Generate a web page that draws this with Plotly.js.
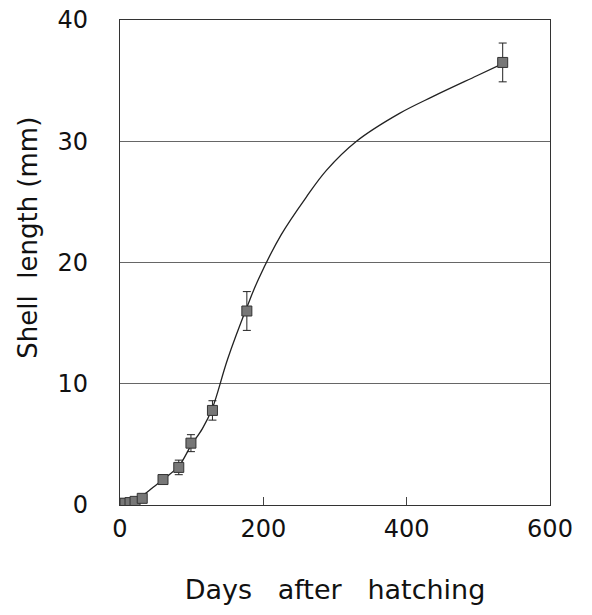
<!DOCTYPE html>
<html><head><meta charset="utf-8">
<script src="https://cdn.plot.ly/plotly-3.0.1.min.js"></script>
<style>html,body{margin:0;padding:0;background:#fff}</style>
</head><body>
<div id="chart" style="width:592px;height:615px"></div>
<script>
// Observed data (mean ± error)
var days = [0, 7, 14, 21, 31, 60, 82, 99, 129, 177, 534];
var shellLength = [0.1, 0.15, 0.2, 0.3, 0.55, 2.1, 3.1, 5.1, 7.8, 16.0, 36.5];
var shellErr = [0.05, 0.05, 0.05, 0.1, 0.2, 0.3, 0.6, 0.7, 0.8, 1.6, 1.6];
// Fitted growth curve
var fitDays = [0, 10, 20, 32, 45, 60, 82, 99, 115, 129, 150, 177, 193, 225, 260, 288, 330, 390, 437, 498, 534];
var fitLen = [0.1, 0.2, 0.4, 0.8, 1.4, 2.1, 3.2, 4.9, 6.3, 8.0, 12.0, 16.3, 18.6, 22.3, 25.4, 27.6, 30.0, 32.3, 33.7, 35.4, 36.4];
var xTicks = [0, 200, 400, 600];
var yTicks = [0, 10, 20, 30, 40];

var fnt = "DejaVu Sans, Liberation Sans, sans-serif";
var traces = [
  {x: fitDays, y: fitLen, mode: 'lines', type: 'scatter',
   line: {color: '#222', width: 1.3, shape: 'spline', smoothing: 1}, hoverinfo: 'skip'},
  {x: days, y: shellLength, mode: 'markers', type: 'scatter',
   marker: {symbol: 'square', size: 10, color: '#777', line: {color: '#333', width: 1}},
   error_y: {type: 'data', array: shellErr, visible: true, color: '#222', thickness: 1, width: 4}}
];
var layout = {
  width: 592, height: 615,
  margin: {l: 120, r: 42, t: 20, b: 110},
  showlegend: false,
  paper_bgcolor: '#fff', plot_bgcolor: '#fff',
  xaxis: {range: [0, 600], tickvals: xTicks, ticktext: xTicks.map(String),
    showgrid: false, zeroline: false, showline: true, mirror: true, linecolor: '#333', linewidth: 1.2,
    ticks: 'inside', ticklen: 8, tickcolor: '#444',
    ticklabelstandoff: 2,
    tickfont: {family: fnt, size: 24, color: '#111'},
    title: {text: 'Days&nbsp;&nbsp;&nbsp;after&nbsp;&nbsp;&nbsp;hatching', font: {family: fnt, size: 27, color: '#111'}, standoff: 38}},
  yaxis: {range: [0, 40], tickvals: yTicks, ticktext: yTicks.map(String),
    showgrid: true, gridcolor: '#666', gridwidth: 1, zeroline: false,
    showline: true, mirror: true, linecolor: '#333', linewidth: 1.2, ticks: '',
    ticklabelstandoff: 26,
    tickfont: {family: fnt, size: 24, color: '#111'},
    title: {text: '&nbsp;&nbsp;&nbsp;&nbsp;&nbsp;&nbsp;Shell&nbsp;&nbsp;length&nbsp;(mm)', font: {family: fnt, size: 26, color: '#111'}, standoff: 12}}
};
Plotly.newPlot('chart', traces, layout, {displayModeBar: false, staticPlot: true});
</script>
</body></html>
